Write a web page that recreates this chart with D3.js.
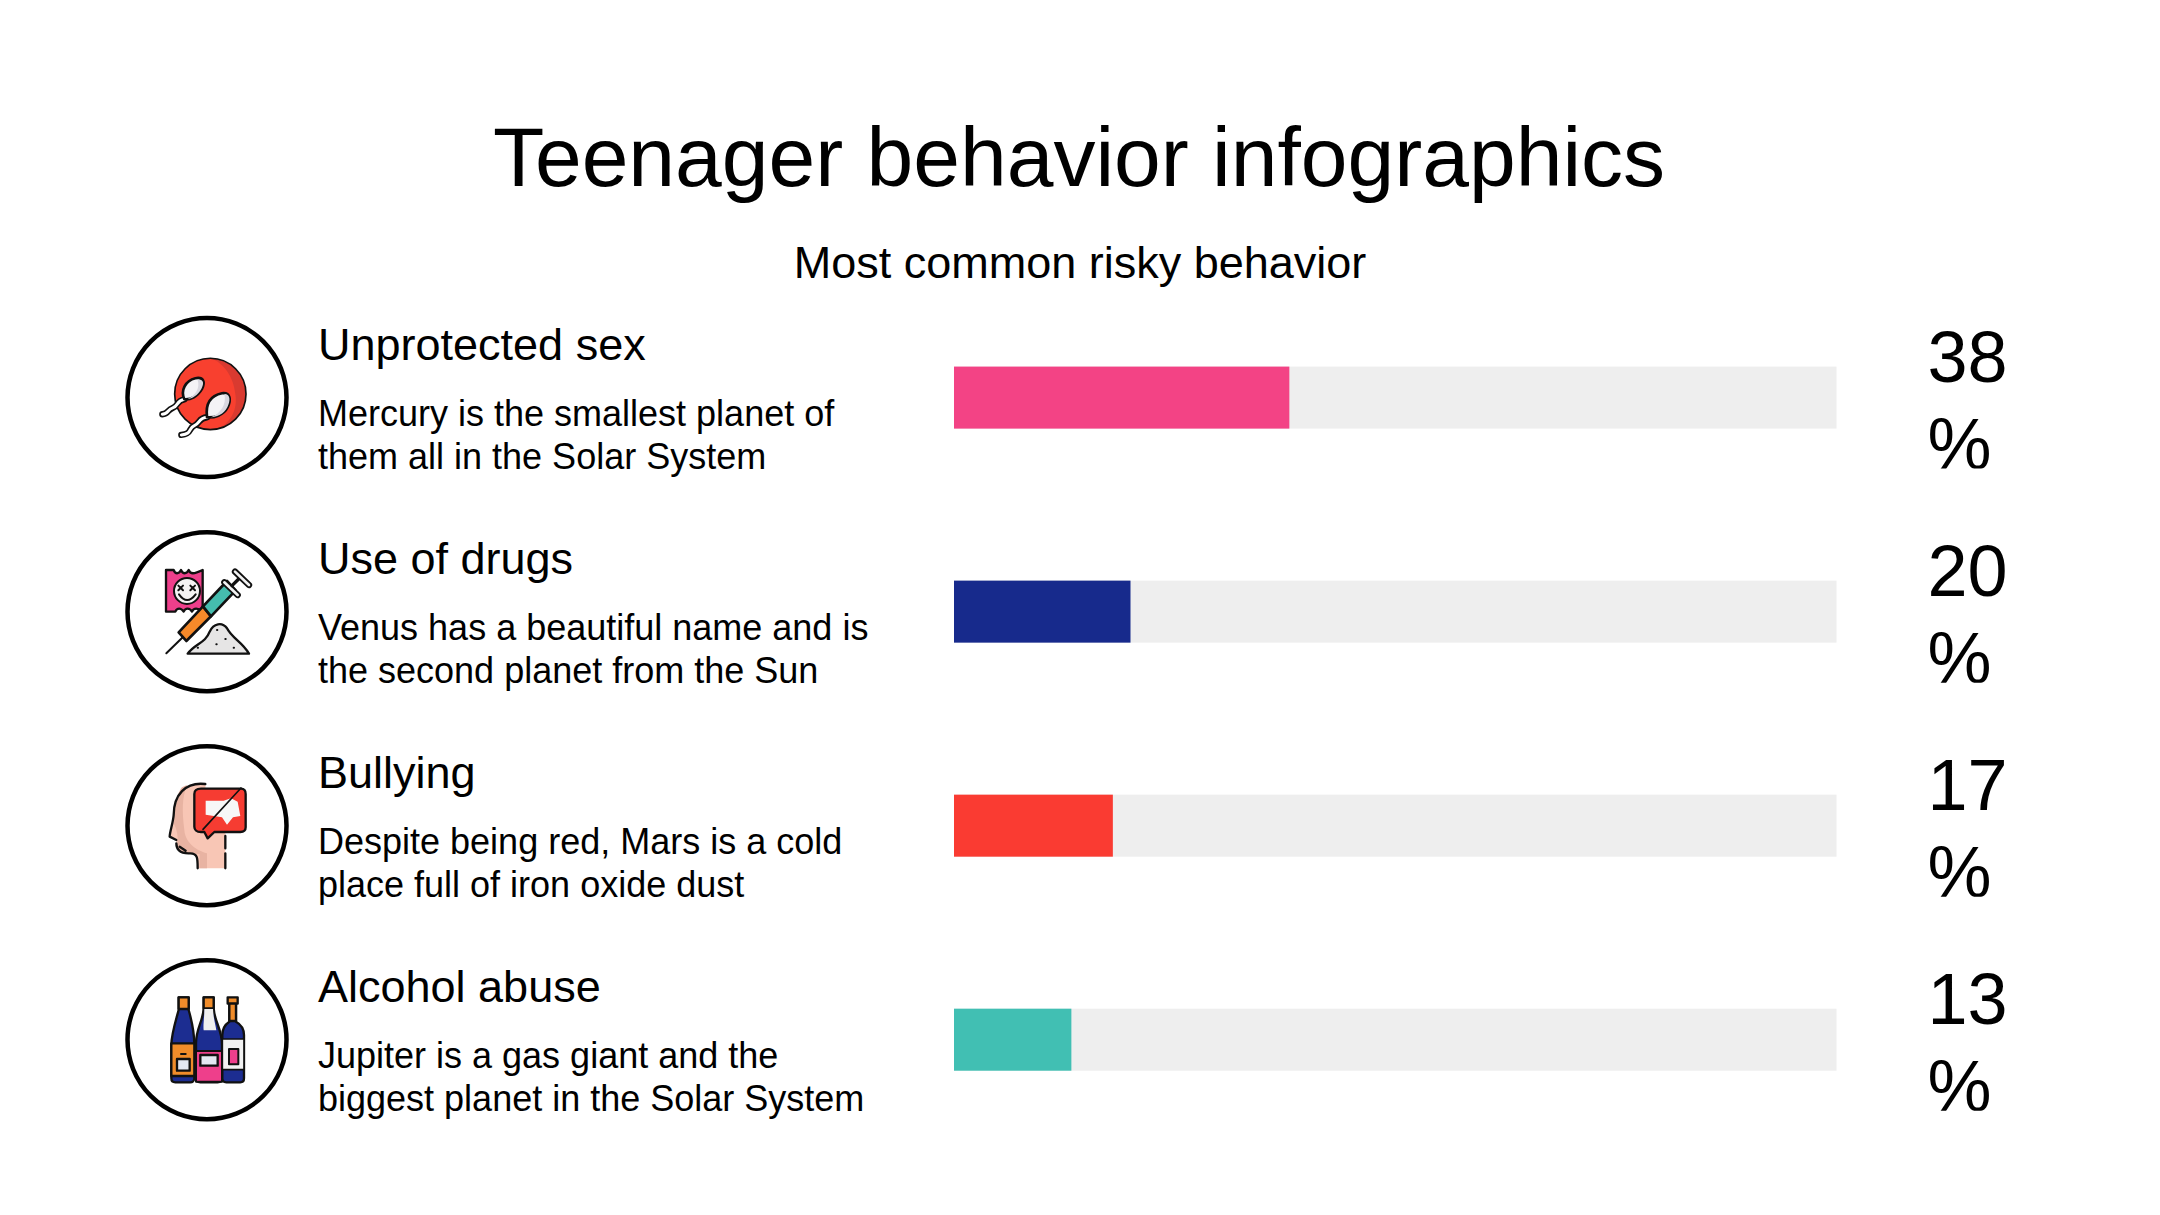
<!DOCTYPE html>
<html>
<head>
<meta charset="utf-8">
<script src="https://cdn.jsdelivr.net/npm/d3@7"></script>
<style>
  html, body { margin: 0; background: #fff; }
  text { font-family: "Liberation Sans", Arial, sans-serif; fill: #000; }
</style>
</head>
<body>
<div id="chart"></div>
<script>
var categories = ["Unprotected sex", "Use of drugs", "Bullying", "Alcohol abuse"];
var values = [38, 20, 17, 13];
// bar lengths as drawn in the picture, the 17 bar is really about 18 long
var barLengths = [38, 20, 18, 13.3];
var descFirst = [
  "Mercury is the smallest planet of",
  "Venus has a beautiful name and is",
  "Despite being red, Mars is a cold",
  "Jupiter is a gas giant and the"
];
var descSecond = [
  "them all in the Solar System",
  "the second planet from the Sun",
  "place full of iron oxide dust",
  "biggest planet in the Solar System"
];
var barColors = ["#f34385", "#172a8c", "#fa3b32", "#41bfb3"];

var svgWidth = 2160;
var svgHeight = 1215;

var svg = d3.select("#chart")
  .append("svg")
  .attr("width", svgWidth)
  .attr("height", svgHeight)
  .style("display", "block");

svg.append("text")
  .attr("x", 1079).attr("y", 186)
  .attr("text-anchor", "middle")
  .attr("font-size", 84)
  .text("Teenager behavior infographics");

svg.append("text")
  .attr("x", 1080).attr("y", 277.5)
  .attr("text-anchor", "middle")
  .attr("font-size", 45)
  .text("Most common risky behavior");

// scales
var xScale = d3.scaleLinear().domain([0, 100]).range([954, 1836.5]);
var rowScale = d3.scalePoint().domain(categories).range([397.6, 1039.7]);

var rows = svg.selectAll("g.row")
  .data(categories)
  .enter()
  .append("g")
  .attr("class", "row")
  .attr("transform", d => `translate(0, ${rowScale(d)})`);

// icon circle
rows.append("circle")
  .attr("cx", 207).attr("cy", 0).attr("r", 79.5)
  .attr("fill", "#fff")
  .attr("stroke", "#000")
  .attr("stroke-width", 4.5);

// text block
rows.append("text")
  .attr("x", 318).attr("y", -38)
  .attr("font-size", 45)
  .text(d => d);

rows.append("text")
  .attr("x", 318).attr("y", 28)
  .attr("font-size", 36)
  .text((d, i) => descFirst[i]);

rows.append("text")
  .attr("x", 318).attr("y", 71)
  .attr("font-size", 36)
  .text((d, i) => descSecond[i]);

// bars
rows.append("rect")
  .attr("x", xScale(0)).attr("y", -31)
  .attr("width", xScale(100) - xScale(0))
  .attr("height", 62)
  .attr("fill", "#eeeeee");

rows.append("rect")
  .attr("x", xScale(0)).attr("y", -31)
  .attr("width", (d, i) => xScale(barLengths[i]) - xScale(0))
  .attr("height", 62)
  .attr("fill", (d, i) => barColors[i]);

// percent labels, the % sign is cut off at the bottom in the original
svg.append("defs").append("clipPath")
  .attr("id", "pctClip")
  .append("rect")
  .attr("x", 1900).attr("y", -90).attr("width", 180).attr("height", 161);

var pct = rows.append("g").attr("clip-path", "url(#pctClip)");

pct.append("text")
  .attr("x", 1927.5).attr("y", -15.5)
  .attr("font-size", 72)
  .text((d, i) => values[i]);

pct.append("text")
  .attr("x", 1927.5).attr("y", 71)
  .attr("font-size", 72)
  .text("%");

// icons are drawn in the coordinates of a 3x crop around the circle
var ink = "#111";
var iconCenterY = [291, 290, 287, 284];
function iconGroup(i) {
  return d3.select(rows.nodes()[i]).append("g")
    .attr("transform", `translate(207, 0) scale(0.3333) translate(-290, ${-iconCenterY[i]})`)
    .attr("stroke-linejoin", "round")
    .attr("stroke-linecap", "round");
}
function p(g, d, fill, stroke, sw) {
  return g.append("path").attr("d", d)
    .attr("fill", fill || "none")
    .attr("stroke", stroke || "none")
    .attr("stroke-width", sw || 0);
}

// unprotected sex
var a = iconGroup(0);
a.append("circle").attr("cx", 300).attr("cy", 280).attr("r", 107).attr("fill", "#d93a30");
p(a, "M300 173 A107 107 0 1 0 300 387 C345 387 385 340 375 280 C370 230 340 185 300 173Z", "#f8402f");
a.append("circle").attr("cx", 300).attr("cy", 280).attr("r", 107).attr("fill", "none").attr("stroke", ink).attr("stroke-width", 5);
function sperm(g, head, shade, tail) {
  p(g, tail, "none", ink, 19);
  p(g, tail, "none", "#fff", 9);
  p(g, head, "#f4f3f6", ink, 8);
  p(g, shade, "#d9d8e0");
}
sperm(a, "M222 296 C210 270 225 240 255 233 C280 228 285 245 275 265 C262 288 240 298 222 296Z",
  "M262 238 C280 236 282 248 273 265 C262 285 245 294 232 295 C255 285 270 262 262 238Z",
  "M222 296 C198 300 205 316 187 322 C170 328 175 340 156 341");
sperm(a, "M290 350 C285 310 300 285 335 278 C362 275 362 300 352 320 C340 345 310 352 290 350Z",
  "M342 280 C362 280 360 302 351 320 C340 342 320 349 302 350 C330 340 350 310 342 280Z",
  "M290 350 C264 352 270 368 252 375 C234 382 246 400 213 403");

// use of drugs
var b = iconGroup(1);
p(b, "M167 165 L190 165 C195 178 205 178 212 165 C218 178 228 178 235 165 C240 178 250 178 277 165 L277 290 C262 278 250 278 245 290 C238 278 225 278 220 290 C212 278 200 278 195 290 L167 290Z", "#ee3f8b", ink, 7);
b.append("circle").attr("cx", 230).attr("cy", 228).attr("r", 39).attr("fill", "#f4f3f3").attr("stroke", ink).attr("stroke-width", 6);
p(b, "M204 212 L218 226 M218 212 L204 226 M240 212 L254 226 M254 212 L240 226", "none", ink, 6);
p(b, "M206 238 Q230 272 256 238", "none", ink, 6);
p(b, "M168 415 L218 366", "none", ink, 6);
p(b, "M205 352 L228 378 L302 304 L278 274Z", "#f5892a", ink, 8);
p(b, "M278 274 L302 304 L376 226 L350 198Z", "#45bcae", ink, 8);
p(b, "M342 202 L382 240", "none", ink, 19);
p(b, "M342 202 L382 240", "none", "#f2f2f2", 8);
p(b, "M365 212 L385 192", "none", ink, 10);
p(b, "M374 170 L416 210", "none", ink, 19);
p(b, "M374 170 L416 210", "none", "#f2f2f2", 8);
p(b, "M232 416 C255 385 285 385 298 350 C310 325 335 320 350 340 C365 370 395 380 416 416Z", "#e6e5e5", ink, 7);
var dots = ["M320 345h1", "M262 398h1", "M318 388h1", "M370 398h1", "M345 372h1"];
dots.forEach(d => p(b, d, "none", ink, 6));

// bullying
var c = iconGroup(2);
p(c, "M285 162 C225 155 190 195 190 255 C188 280 178 305 178 320 L198 330 C198 350 205 372 240 370 C262 370 262 385 262 415 L345 415 L345 300 L290 300 Z", "#f8c6b5");
p(c, "M215 172 C195 195 190 260 190 280 C200 300 205 320 200 350 C210 372 240 372 268 372 L268 415 L290 415 L290 370 C270 365 225 345 222 300 C215 240 215 205 230 165Z", "#e8b3a2");
p(c, "M285 162 C225 155 190 195 190 255 C188 280 178 305 178 320 L198 330 M208 350 L226 362 M198 340 C198 355 205 372 240 370 C262 370 262 385 262 415 M345 415 L345 370 M345 355 L345 318", "none", ink, 7);
p(c, "M272 176 L392 176 C402 176 406 182 406 192 L406 292 C406 302 400 306 390 306 L312 306 L292 325 L282 306 L272 306 C258 306 252 298 252 290 L252 192 C252 182 260 176 272 176Z", "#f63c32", ink, 7);
p(c, "M286 212 L340 212 L362 205 L382 215 L390 258 L368 262 L350 284 L335 262 L286 254Z", "#f7f7f7");
p(c, "M392 174 L278 298", "none", ink, 5);

// alcohol abuse
var e = iconGroup(3);
p(e, "M205 157 L235 157 L235 195 C245 230 252 270 252 300 L252 400 C252 408 246 412 240 412 L195 412 C187 412 183 408 183 400 L183 300 C183 270 195 230 205 195Z", "#1c2d91", ink, 7);
p(e, "M205 157 L235 157 L235 192 L205 192Z", "#f08c2a", ink, 7);
p(e, "M183 295 L252 295 L252 393 L183 393Z", "#f08c2a", ink, 7);
p(e, "M200 342 L238 342 L238 377 L200 377Z", "#e4e8f2", ink, 7);
p(e, "M212 327 L226 327", "none", ink, 6);
p(e, "M280 157 L310 157 L310 190 C312 230 335 250 335 300 L335 400 C335 408 330 412 322 412 L270 412 C262 412 257 408 257 400 L257 295 C257 250 278 230 280 190Z", "#1c2d91", ink, 7);
p(e, "M280 157 L310 157 L310 190 L280 190Z", "#f08c2a", ink, 7);
p(e, "M282 192 L308 192 C310 225 315 235 318 256 L280 256 C278 240 282 220 282 192Z", "#eeeeee");
p(e, "M257 318 L335 318 L335 410 L257 410Z", "#ee3f8b", ink, 6);
p(e, "M270 330 L322 330 L322 362 L270 362Z", "#e4e8f2", ink, 7);
p(e, "M357 176 L377 176 L377 230 C395 240 401 255 401 270 L401 400 C401 408 396 412 390 412 L348 412 C341 412 336 408 336 400 L336 270 C336 255 342 240 357 230Z", "#1c2d91", ink, 7);
p(e, "M352 157 L382 157 L382 176 L352 176Z", "#f08c2a", ink, 7);
p(e, "M357 176 L377 176 L377 228 L357 228Z", "#f08c2a", ink, 7);
p(e, "M336 282 L401 282 L401 374 L336 374Z", "#f2f2f2", ink, 5);
p(e, "M356 312 L384 312 L384 358 L356 358Z", "#ee3f8b", ink, 6);
</script>
</body>
</html>
